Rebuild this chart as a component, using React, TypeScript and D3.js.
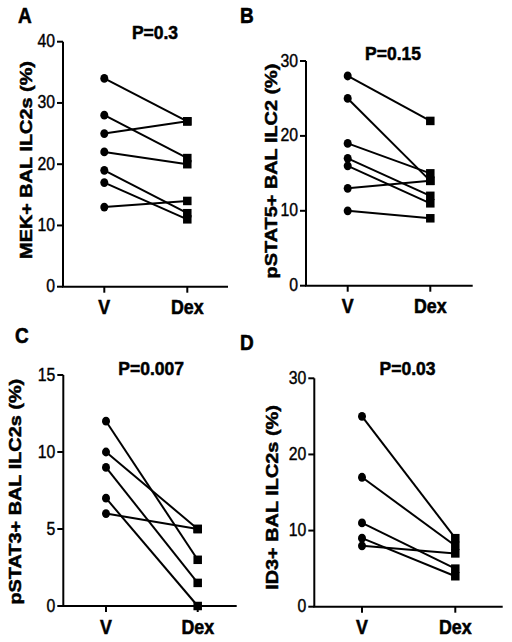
import React from 'react';
import * as d3 from 'd3';

// ---- data ----
const groups = ['V', 'Dex'];

const mekV = [34, 28, 25, 22, 19, 17, 13];
const mekDex = [27, 21, 27, 20, 12, 11, 14];

const pstat5V = [28, 25, 19, 17, 16, 13, 10];
const pstat5Dex = [22, 14, 15, 12, 11, 14, 9];

const pstat3V = [12, 10, 9, 7, 6];
const pstat3Dex = [3, 5, 1.5, 0, 5];

const id3V = [25, 17, 11, 9, 8];
const id3Dex = [9, 8, 5, 4, 7];

const ticksA = [0, 10, 20, 30, 40];
const ticksB = [0, 10, 20, 30];
const ticksC = [0, 5, 10, 15];
const ticksD = [0, 10, 20, 30];

const letters = ['A', 'B', 'C', 'D'];
const titles = ['P=0.3', 'P=0.15', 'P=0.007', 'P=0.03'];
const yLabels = ['MEK+ BAL ILC2s (%)', 'pSTAT5+ BAL ILC2 (%)', 'pSTAT3+ BAL ILC2s (%)', 'ID3+ BAL ILC2s (%)'];

// ---- layout ----
type Layout = {
  axisX: number; vX: number; dexX: number; xEnd: number; yTop: number; yBot: number;
  letterX: number; letterY: number; titleX: number; titleY: number; labelX: number; labelY: number;
};

const layouts: Layout[] = [
  { axisX: 63, vX: 104.3, dexX: 187.3, xEnd: 228, yTop: 41.7, yBot: 286.7, letterX: 18, letterY: 23.3, titleX: 155, titleY: 39.3, labelX: 26, labelY: 160 },
  { axisX: 306, vX: 347.7, dexX: 430.3, xEnd: 472.7, yTop: 61, yBot: 285.7, letterX: 240, letterY: 23.3, titleX: 393, titleY: 60, labelX: 270.5, labelY: 171 },
  { axisX: 63.3, vX: 106, dexX: 197.7, xEnd: 236.7, yTop: 375, yBot: 606, letterX: 15, letterY: 343.3, titleX: 151.2, titleY: 375, labelX: 15, labelY: 491.7 },
  { axisX: 314.3, vX: 362, dexX: 455.3, xEnd: 502.7, yTop: 378.3, yBot: 606.7, letterX: 240, letterY: 350, titleX: 407.5, titleY: 375, labelX: 272, labelY: 497.5 },
];

const FONT = '"Liberation Sans", Arial, Helvetica, sans-serif';
const STRETCH = 1.15;
const bold = { fontFamily: FONT, fontWeight: 'bold' as const, stroke: '#000', strokeWidth: 0.5 };

function Panel({ idx, v, dex, ticks }: { idx: number; v: number[]; dex: number[]; ticks: number[] }) {
  const L = layouts[idx];
  const y = d3.scaleLinear().domain([0, ticks[ticks.length - 1]]).range([L.yBot, L.yTop]);
  const x = d3.scalePoint<string>().domain(groups).range([L.vX, L.dexX]);
  const xv = x('V') as number;
  const xd = x('Dex') as number;
  const sq = 8.5;
  return (
    <g>
      <text transform={`translate(${L.letterX},${L.letterY}) scale(1,${STRETCH})`} {...bold} fontSize={19}>{letters[idx]}</text>
      <text x={L.titleX} y={L.titleY} textAnchor="middle" {...bold} fontSize={17.5}>{titles[idx]}</text>
      <text transform={`translate(${L.labelX},${L.labelY}) scale(1,${STRETCH}) rotate(-90)`} textAnchor="middle" dy="0.35em" {...bold} fontSize={17.3}>{yLabels[idx]}</text>
      {/* axes */}
      <line x1={L.axisX} x2={L.axisX} y1={L.yTop} y2={L.yBot} stroke="#000" strokeWidth={2} />
      <line x1={L.axisX - 1} x2={L.xEnd} y1={L.yBot} y2={L.yBot} stroke="#000" strokeWidth={2} />
      {ticks.map((t) => (
        <g key={t}>
          <line x1={L.axisX - 6} x2={L.axisX} y1={y(t)} y2={y(t)} stroke="#000" strokeWidth={2} />
          <text transform={`translate(${L.axisX - 8},${y(t) + 5.5}) scale(1,${STRETCH})`} textAnchor="end" fontFamily={FONT} fontSize={15.8} stroke="#000" strokeWidth={0.35}>{t}</text>
        </g>
      ))}
      {groups.map((g) => (
        <g key={g}>
          <line x1={x(g)} x2={x(g)} y1={L.yBot} y2={L.yBot + 6} stroke="#000" strokeWidth={2} />
          <text transform={`translate(${x(g)},${L.yBot + 27.5}) scale(1,${STRETCH})`} textAnchor="middle" {...bold} fontSize={17.8}>{g}</text>
        </g>
      ))}
      {/* pairs */}
      {v.map((val, i) => (
        <line key={'l' + i} x1={xv} y1={y(val)} x2={xd} y2={y(dex[i])} stroke="#000" strokeWidth={2} />
      ))}
      {v.map((val, i) => (
        <ellipse key={'c' + i} cx={xv} cy={y(val)} rx={4} ry={4.4} fill="#000" />
      ))}
      {dex.map((val, i) => (
        <rect key={'s' + i} x={xd - sq / 2} y={y(val) - sq / 2} width={sq} height={sq} fill="#000" />
      ))}
    </g>
  );
}

export default function App() {
  return (
    <svg width={512} height={642} style={{ position: 'absolute', left: 0, top: 0, background: '#fff' }}>
      <rect width={512} height={642} fill="#fff" />
      <Panel idx={0} v={mekV} dex={mekDex} ticks={ticksA} />
      <Panel idx={1} v={pstat5V} dex={pstat5Dex} ticks={ticksB} />
      <Panel idx={2} v={pstat3V} dex={pstat3Dex} ticks={ticksC} />
      <Panel idx={3} v={id3V} dex={id3Dex} ticks={ticksD} />
    </svg>
  );
}
